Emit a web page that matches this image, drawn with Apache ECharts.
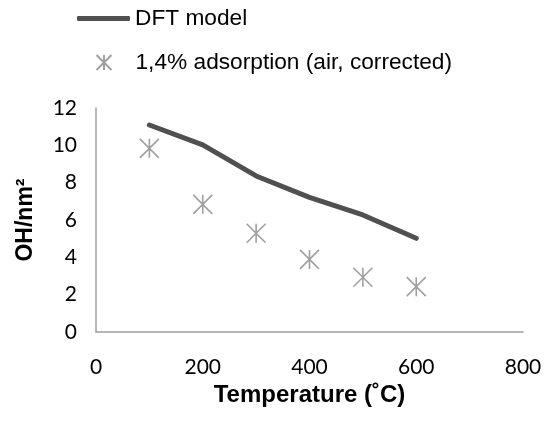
<!DOCTYPE html>
<html>
<head>
<meta charset="utf-8">
<script src="https://cdn.jsdelivr.net/npm/echarts@6/dist/echarts.min.js"></script>
<style>html,body{margin:0;padding:0;background:#fff}#c{width:545px;height:422px}</style>
</head>
<body>
<div id="c"></div>
<script>
const temps = [100, 200, 300, 400, 500, 600];
const dftModel = [11.09, 10.02, 8.36, 7.21, 6.27, 5.02];
const adsorption = [9.84, 6.84, 5.29, 3.89, 2.93, 2.43];
const xTicks = [0, 200, 400, 600, 800];
const yTicks = [0, 2, 4, 6, 8, 10, 12];
const seriesNames = ['DFT model', '1,4% adsorption (air, corrected)'];

const chart = echarts.init(document.getElementById('c'), null, {renderer: 'canvas'});
const asterisk = 'path://M0 0L20 20M20 0L0 20M10 0L10 20';
chart.setOption({
  animation: false,
  backgroundColor: '#fff',
  grid: {left: 96, right: 22, top: 108, bottom: 90, containLabel: false},
  legend: [
    {data: [{name: seriesNames[0], icon: 'roundRect'}], left: 77, top: 7, padding: 0, itemWidth: 53, itemHeight: 5, itemGap: 0, itemTextGap: 5,
     itemStyle: {color: '#505050'},
     textStyle: {fontFamily: 'Liberation Sans', fontSize: 22.7, color: '#000'}},
    {data: [seriesNames[1]], left: 95.5, top: 51, padding: 0, itemWidth: 15, itemHeight: 15, itemGap: 0, itemTextGap: 5,
     textStyle: {fontFamily: 'Liberation Sans', fontSize: 22.7, color: '#000', padding: [0, 0, 0, 19]}}
  ],
  xAxis: {
    type: 'value', min: xTicks[0], max: xTicks[xTicks.length - 1], interval: 200,
    name: 'Temperature (˚C)', nameLocation: 'middle', nameGap: 41,
    nameTextStyle: {fontFamily: 'Liberation Sans', fontWeight: 'bold', fontSize: 24, color: '#000'},
    axisLine: {show: true, lineStyle: {color: '#A0A0A0', width: 1.5}},
    axisTick: {show: false}, splitLine: {show: false},
    axisLabel: {margin: 25, fontFamily: 'Lato', fontSize: 21, color: '#000'}
  },
  yAxis: {
    type: 'value', min: yTicks[0], max: yTicks[yTicks.length - 1], interval: 2,
    name: 'OH/nm²', nameLocation: 'middle', nameGap: 59, nameRotate: 90,
    nameTextStyle: {fontFamily: 'Liberation Sans', fontWeight: 'bold', fontSize: 23, color: '#000'},
    axisLine: {show: true, lineStyle: {color: '#A0A0A0', width: 1.5}},
    axisTick: {show: false}, splitLine: {show: false},
    axisLabel: {margin: 19, fontFamily: 'Lato', fontSize: 21, color: '#000'}
  },
  series: [
    {
      name: seriesNames[0], type: 'line', symbol: 'none', showSymbol: false,
      data: temps.map((t, i) => [t, dftModel[i]]),
      lineStyle: {color: '#505050', width: 5, cap: 'round', join: 'round'},
      itemStyle: {color: '#505050'}
    },
    {
      name: seriesNames[1], type: 'scatter', symbol: asterisk, symbolSize: [19, 19], symbolKeepAspect: true,
      data: temps.map((t, i) => [t, adsorption[i]]),
      itemStyle: {color: 'rgba(0,0,0,0)', borderColor: '#A0A0A0', borderWidth: 1.6, opacity: 1}
    }
  ]
});
</script>
</body>
</html>
